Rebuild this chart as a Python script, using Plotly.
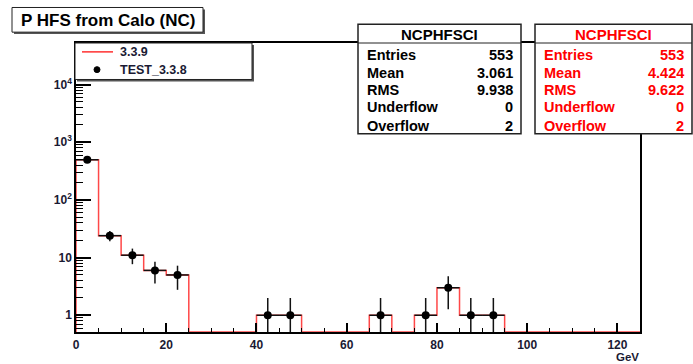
import numpy as np
import plotly.graph_objects as go

# ---- data ----
bin_width = 5
bin_edges = list(range(0, 130, 5))  # 0..125
counts_339 = [496, 24, 11, 6, 5, 0, 0, 0, 1, 1, 0, 0, 0, 1, 0, 1, 3, 1, 1, 0, 0, 0, 0, 0, 0]
counts_test = [496, 24, 11, 6, 5, 0, 0, 0, 1, 1, 0, 0, 0, 1, 0, 1, 3, 1, 1, 0, 0, 0, 0, 0, 0]
x_ticks = [0, 20, 40, 60, 80, 100, 120]
y_ticks = [1, 10, 100, 1000, 10000]
y_ticktext = ["1", "10", "10<sup>2</sup>", "10<sup>3</sup>", "10<sup>4</sup>"]
stats_labels = ["Entries", "Mean", "RMS", "Underflow", "Overflow"]
stats_339 = ["553", "3.061", "9.938", "0", "2"]
stats_test = ["553", "4.424", "9.622", "0", "2"]
title_text = "P HFS from Calo (NC)"
legend_names = ["3.3.9", "TEST_3.3.8"]

# ---- geometry ----
W, H = 693, 364
L, R, T, B = 76, 640, 43, 336
ylo, yhi = -0.29, 4.72
floor = 10 ** ylo
FONT = "Liberation Sans, Arial, Helvetica, sans-serif"

def px(x):
    return (x - L) / (R - L)

def py(y):
    return (B - y) / (B - T)

fig = go.Figure()

# red step histogram
step_x = [bin_edges[0]] + bin_edges
step_y = [floor] + [max(c, floor) for c in counts_339] + [max(counts_339[-1], floor)]
fig.add_trace(go.Scatter(x=step_x, y=step_y, mode="lines", line_shape="hv",
                         line=dict(color="#ff4848", width=1.5), hoverinfo="skip",
                         showlegend=False))

# data points
centers = [e + bin_width / 2 for e in bin_edges[:-1]]
dx = [c for c, n in zip(centers, counts_test) if n > 0]
dy = [n for n in counts_test if n > 0]
derr = [float(np.sqrt(n)) for n in dy]
fig.add_trace(go.Scatter(x=dx, y=dy, mode="markers",
                         marker=dict(color="black", size=8),
                         error_y=dict(type="data", array=derr, color="#111111", thickness=1.5, width=0),
                         error_x=dict(type="constant", value=bin_width / 2, color="#111111", thickness=1.5, width=0),
                         showlegend=False))

minor_y = [k * 10 ** n for n in range(-1, 5) for k in range(2, 10) if ylo < np.log10(k * 10 ** n) < yhi]
tickfont = dict(size=12, color="#1a1a33", family=FONT, weight="bold")

fig.update_layout(
    width=W, height=H,
    margin=dict(l=L, r=W - R, t=T, b=H - B),
    paper_bgcolor="white", plot_bgcolor="white",
    font=dict(family=FONT, color="black"),
    xaxis=dict(range=[0, 125], tickvals=x_ticks, ticks="inside", ticklen=9, tickwidth=1.5,
               tickcolor="black", showgrid=False, zeroline=False, showline=True, mirror=True,
               linecolor="black", linewidth=1.5, tickfont=tickfont, ticklabelstandoff=1,
               minor=dict(tickvals=[v for v in range(5, 125, 5) if v % 20], ticks="inside",
                          ticklen=4, tickwidth=1, tickcolor="black")),
    yaxis=dict(type="log", range=[ylo, yhi], tickvals=y_ticks, ticktext=y_ticktext,
               ticks="inside", ticklen=15, tickwidth=1.5, tickcolor="black",
               showgrid=False, zeroline=False, showline=True, mirror=True,
               linecolor="black", linewidth=1.5, tickfont=tickfont,
               minor=dict(tickvals=minor_y, ticks="inside", ticklen=7, tickwidth=1,
                          tickcolor="black")),
)

shapes = []
ann = []

def box(x0, y0, x1, y1, shadow=True, lw=1):
    if shadow:
        shapes.append(dict(type="rect", xref="paper", yref="paper",
                           x0=px(x0 + 2), x1=px(x1 + 2), y0=py(y1 + 2), y1=py(y0 + 2),
                           line=dict(width=0), fillcolor="#555555", layer="above"))
    shapes.append(dict(type="rect", xref="paper", yref="paper",
                       x0=px(x0), x1=px(x1), y0=py(y1), y1=py(y0),
                       line=dict(color="#222222", width=lw), fillcolor="white", layer="above"))

def text(x, y, s, anchor="left", size=12, color="black", bold=True, yanchor="middle"):
    ann.append(dict(xref="paper", yref="paper", x=px(x), y=py(y), text=s, showarrow=False,
                    xanchor=anchor, yanchor=yanchor, borderpad=0,
                    font=dict(size=size, color=color, family=FONT,
                              weight="bold" if bold else "normal")))

# title box
box(12, 7, 203, 32)
text(107.5, 20, title_text, anchor="center", size=17)

# legend box
box(75, 43, 252, 80)
shapes.append(dict(type="line", xref="paper", yref="paper", x0=px(82), x1=px(113),
                   y0=py(52), y1=py(52), line=dict(color="#ff3030", width=1.5), layer="above"))
shapes.append(dict(type="circle", xref="paper", yref="paper", x0=px(94), x1=px(100),
                   y0=py(73), y1=py(67), line=dict(color="black", width=1), fillcolor="black",
                   layer="above"))
text(119, 52, legend_names[0], size=12.5, color="#1a1a33")
text(119, 70, legend_names[1], size=12.5, color="#1a1a33")

# stats boxes
rows_y = [55, 73, 91, 108, 127]
for (bx0, bx1, vals, col) in [(358, 521, stats_339, "black"), (535, 692, stats_test, "#ff0000")]:
    box(bx0, 24, bx1, 135, shadow=False, lw=1.5)
    shapes.append(dict(type="line", xref="paper", yref="paper", x0=px(bx0), x1=px(bx1),
                       y0=py(43), y1=py(43), line=dict(color="#222222", width=1), layer="above"))
    text((bx0 + bx1) / 2, 34, "NCPHFSCI", anchor="center", size=15, color=col)
    for lab, v, yy in zip(stats_labels, vals, rows_y):
        text(bx0 + 8, yy, lab, size=14.5, color=col)
        text(bx1 - 7, yy, v, anchor="right", size=14.5, color=col)

# axis title
text(640, 354, "GeV", anchor="right", size=11.5, color="#1a1a33", yanchor="top")

fig.update_layout(shapes=shapes, annotations=ann)
fig.write_html("out.html", config={"displayModeBar": False},
               post_script="document.body.style.margin='0';document.body.style.padding='0';")
